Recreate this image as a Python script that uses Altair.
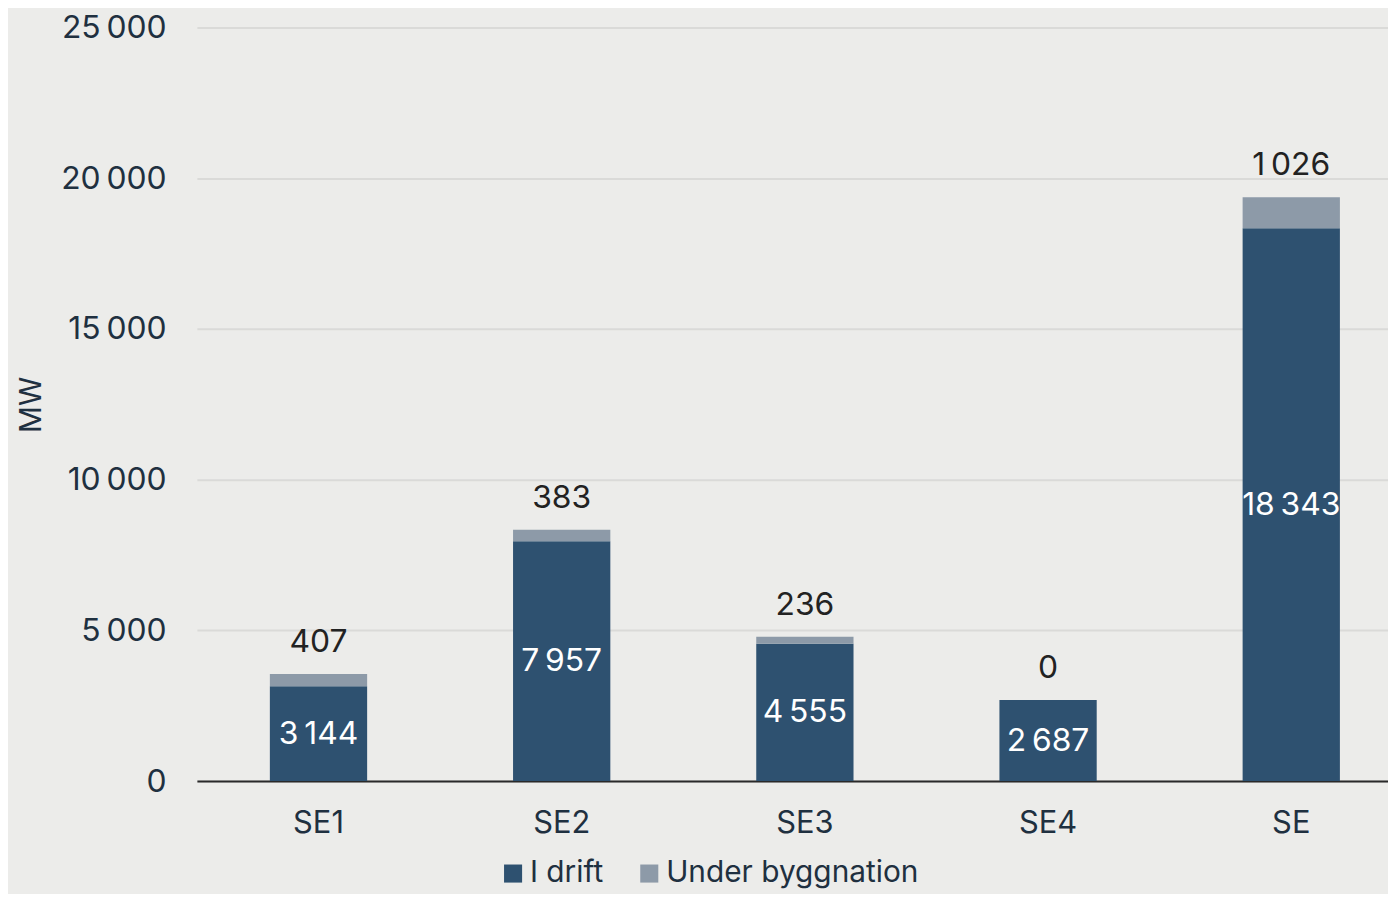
import altair as alt
import pandas as pd

regions = ["SE1", "SE2", "SE3", "SE4", "SE"]
i_drift = [3144, 7957, 4555, 2687, 18343]
under_byggnation = [407, 383, 236, 0, 1026]
series = ["I drift", "Under byggnation"]
y_ticks = [0, 5000, 10000, 15000, 20000, 25000]

rows = []
for r, a, b in zip(regions, i_drift, under_byggnation):
    rows.append({"region": r, "serie": series[0], "value": a, "ord": 0})
    rows.append({"region": r, "serie": series[1], "value": b, "ord": 1})
long_df = pd.DataFrame(rows)
wide_df = pd.DataFrame({"region": regions, "drift": i_drift, "bygg": under_byggnation})

FONT = "Inter"
TXT = "#1f3040"
SEP = "\u2009"

x_scale = alt.Scale(domain=regions, range=[1, 1224], paddingInner=0.6, paddingOuter=0.3)
y_scale = alt.Scale(domain=[0, 25000], nice=False)

bars = alt.Chart(long_df).mark_bar().encode(
    x=alt.X("region:N", sort=regions, title=None, scale=x_scale,
            axis=alt.Axis(labelAngle=0, labelFontSize=31, labelColor=TXT, labelFont=FONT,
                          labelPadding=28, ticks=False, domainColor="#2a2a2a", domainWidth=2,
                          grid=False)),
    y=alt.Y("value:Q", stack="zero", scale=y_scale, title="MW",
            axis=alt.Axis(values=y_ticks, labelFontSize=32, labelColor=TXT, labelFont=FONT,
                          labelPadding=30, ticks=False, domain=False, gridColor="#dadad8",
                          gridWidth=2, titleFontSize=30, titleColor=TXT, titleFont=FONT,
                          titleFontWeight="normal", titlePadding=14,
                          labelExpr=f"replace(format(datum.value, ','), ',', '{SEP}')")),
    color=alt.Color("serie:N", scale=alt.Scale(domain=series, range=["#2e5170", "#8d9aa8"]),
                    legend=alt.Legend(title=None, orient="none", direction="horizontal",
                                      legendX=304, legendY=836, symbolType="square",
                                      symbolSize=330, symbolStrokeWidth=0, labelFontSize=30,
                                      labelColor=TXT, labelFont=FONT, columnPadding=31,
                                      labelOffset=2, labelLimit=0)),
    order=alt.Order("ord:Q", sort="ascending"),
)

inner = alt.Chart(wide_df).transform_calculate(
    mid="datum.drift / 2",
    lab=f"replace(format(datum.drift, ','), ',', '{SEP}')",
).mark_text(color="white", fontSize=32, font=FONT, baseline="middle").encode(
    x=alt.X("region:N", sort=regions, scale=x_scale), y=alt.Y("mid:Q", scale=y_scale), text="lab:N")

top = alt.Chart(wide_df).transform_calculate(
    tot="datum.drift + datum.bygg",
    lab=f"replace(format(datum.bygg, ','), ',', '{SEP}')",
).mark_text(color="#222222", fontSize=32, font=FONT, baseline="middle", dy=-32).encode(
    x=alt.X("region:N", sort=regions, scale=x_scale), y=alt.Y("tot:Q", scale=y_scale), text="lab:N")

chart = alt.layer(bars, inner, top).properties(
    width=1199, height=758, background="#ececea",
    autosize=alt.AutoSizeParams(type="none"),
    padding={"left": 189, "top": 17, "right": 0, "bottom": 111},
).configure_view(stroke=None)

chart.save("out.html", embed_options={"renderer": "svg", "actions": False})
